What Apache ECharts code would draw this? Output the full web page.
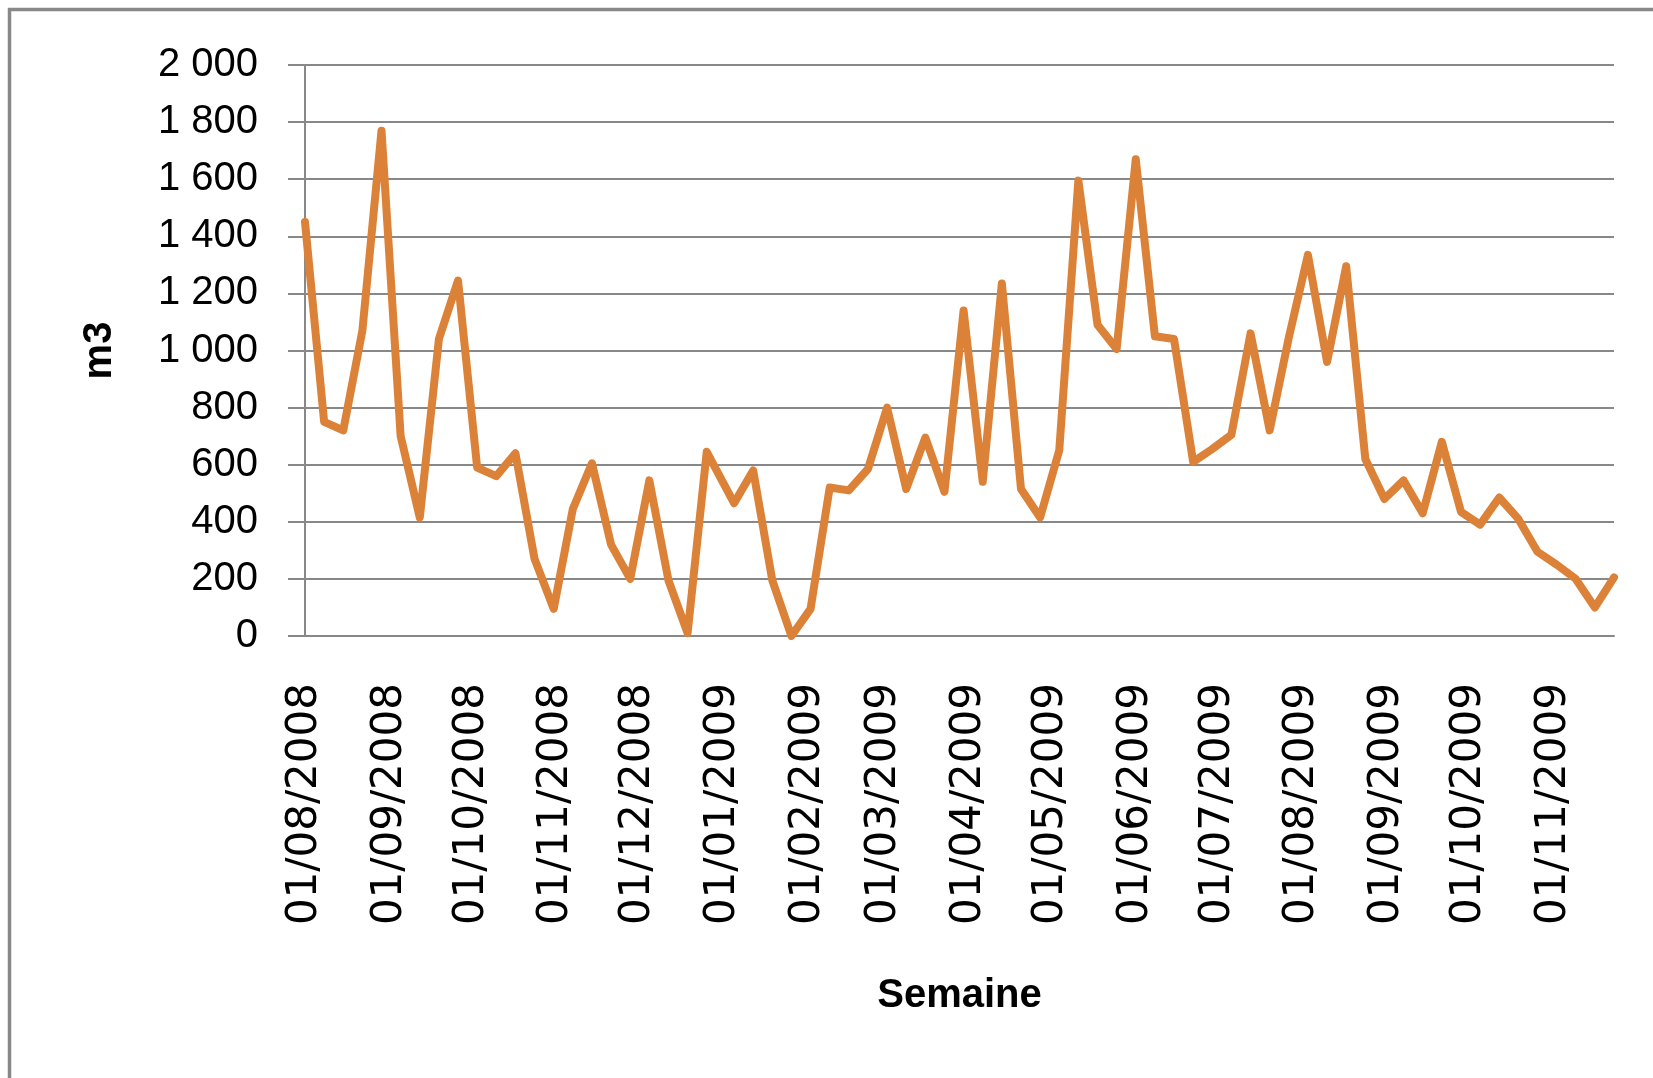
<!DOCTYPE html>
<html>
<head>
<meta charset="utf-8">
<script src="https://cdn.jsdelivr.net/npm/echarts@6/dist/echarts.min.js"></script>
<style>
  html, body { margin: 0; padding: 0; background: #ffffff; }
  #chart { width: 1653px; height: 1078px; }
</style>
</head>
<body>
<div id="chart"></div>
<script>
// Weekly dates (2008: Fridays, 2009: Mondays)
const weekDates = [
  '2008-08-01','2008-08-08','2008-08-15','2008-08-22','2008-08-29',
  '2008-09-05','2008-09-12','2008-09-19','2008-09-26',
  '2008-10-03','2008-10-10','2008-10-17','2008-10-24','2008-10-31',
  '2008-11-07','2008-11-14','2008-11-21','2008-11-28',
  '2008-12-05','2008-12-12','2008-12-19','2008-12-26',
  '2009-01-05','2009-01-12','2009-01-19','2009-01-26',
  '2009-02-02','2009-02-09','2009-02-16','2009-02-23',
  '2009-03-02','2009-03-09','2009-03-16','2009-03-23','2009-03-30',
  '2009-04-06','2009-04-13','2009-04-20','2009-04-27',
  '2009-05-04','2009-05-11','2009-05-18','2009-05-25',
  '2009-06-01','2009-06-08','2009-06-15','2009-06-22','2009-06-29',
  '2009-07-06','2009-07-13','2009-07-20','2009-07-27',
  '2009-08-03','2009-08-10','2009-08-17','2009-08-24','2009-08-31',
  '2009-09-07','2009-09-14','2009-09-21','2009-09-28',
  '2009-10-05','2009-10-12','2009-10-19','2009-10-26',
  '2009-11-02','2009-11-09','2009-11-16','2009-11-23'
];

// Volume (m3) per week
const volumes = [
  1450, 750, 720, 1070, 1770, 700, 415, 1040, 1245, 590,
  560, 640, 270, 95, 445, 605, 320, 200, 545, 195,
  10, 645, 465, 580, 195, 0, 95, 520, 510, 585,
  800, 515, 695, 505, 1140, 540, 1235, 515, 415, 650,
  1595, 1090, 1005, 1670, 1050, 1040, 610, 655, 705, 1060,
  720, 1045, 1335, 960, 1295, 620, 480, 545, 430, 680,
  435, 390, 485, 410, 295, 250, 200, 100, 205
];

// X tick labels (month starts)
const monthTicks = [
  '2008-08-01','2008-09-01','2008-10-01','2008-11-01','2008-12-01',
  '2009-01-01','2009-02-01','2009-03-01','2009-04-01','2009-05-01',
  '2009-06-01','2009-07-01','2009-08-01','2009-09-01','2009-10-01','2009-11-01'
];

const yMin = 0, yMax = 2000, yStep = 200;

function toTs(s) { return new Date(s + 'T00:00:00').getTime(); }
function pad2(n) { return (n < 10 ? '0' : '') + n; }
function fmtDate(v) {
  const d = new Date(v);
  return pad2(d.getDate()) + '/' + pad2(d.getMonth() + 1) + '/' + d.getFullYear();
}
function fmtNum(v) {
  if (v >= 1000) {
    const th = Math.floor(v / 1000);
    const rest = String(v % 1000).padStart(3, '0');
    return th + ' ' + rest;
  }
  return String(v);
}

const gray = '#888888';
const chart = echarts.init(document.getElementById('chart'), null, { renderer: 'canvas' });

chart.setOption({
  animation: false,
  backgroundColor: '#ffffff',
  graphic: [{
    type: 'rect',
    silent: true,
    shape: { x: 9.5, y: 9.5, width: 1720, height: 1120 },
    style: { fill: 'none', stroke: '#888888', lineWidth: 3.5 }
  }],
  grid: { left: 305, right: 39, top: 65, bottom: 442, containLabel: false },
  xAxis: {
    type: 'value',
    min: toTs(weekDates[0]),
    max: toTs(weekDates[weekDates.length - 1]),
    axisLine: { show: true, onZero: false, lineStyle: { color: gray, width: 2 } },
    axisTick: { show: false },
    splitLine: { show: false },
    axisLabel: {
      customValues: monthTicks.map(toTs),
      rotate: 90,
      margin: 47,
      hideOverlap: false,
      showMinLabel: true,
      showMaxLabel: true,
      fontFamily: 'DejaVu Sans',
      fontSize: 42,
      color: '#000000',
      formatter: function (v) { return fmtDate(v); }
    },
    name: 'Semaine',
    nameLocation: 'middle',
    nameGap: 340,
    nameTextStyle: { fontFamily: 'Liberation Sans', fontWeight: 'bold', fontSize: 40, color: '#000000' }
  },
  yAxis: {
    type: 'value',
    min: yMin, max: yMax, interval: yStep,
    axisLine: { show: true, lineStyle: { color: gray, width: 2 } },
    axisTick: { show: true, length: 17, lineStyle: { color: gray, width: 2 } },
    splitLine: { show: true, lineStyle: { color: gray, width: 2 } },
    axisLabel: {
      margin: 47,
      fontFamily: 'Liberation Sans',
      fontSize: 40,
      color: '#000000',
      formatter: function (v) { return fmtNum(v); }
    },
    name: 'm3',
    nameLocation: 'middle',
    nameGap: 185,
    nameRotate: 90,
    nameTextStyle: { fontFamily: 'Liberation Sans', fontWeight: 'bold', fontSize: 40, color: '#000000' }
  },
  series: [{
    type: 'line',
    name: 'm3',
    showSymbol: false,
    symbol: 'none',
    data: weekDates.map(function (d, i) { return [toTs(d), volumes[i]]; }),
    lineStyle: { color: '#DB8238', width: 8, join: 'round', cap: 'round' },
    itemStyle: { color: '#DB8238' }
  }]
});
</script>
</body>
</html>
